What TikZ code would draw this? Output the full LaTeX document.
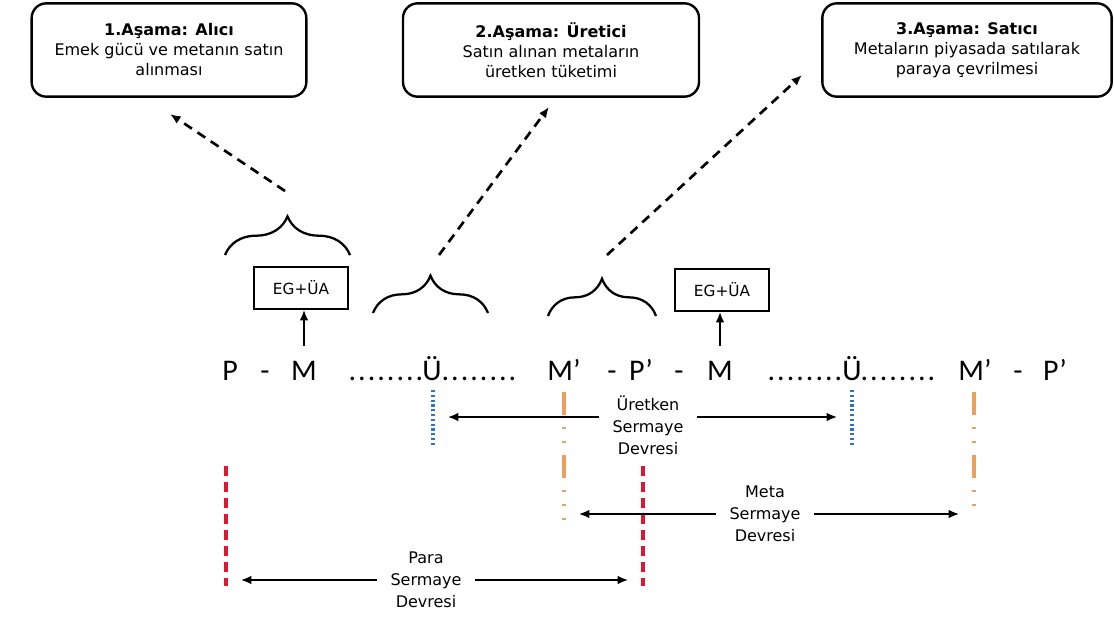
\documentclass[tikz,border=0pt]{standalone}
\usepackage{fontspec}
\setmainfont{DejaVu Sans}
\newfontfamily\rowfont{Carlito}
\usepackage{tikz}
\usetikzlibrary{arrows,arrows.meta}
\usetikzlibrary{decorations,decorations.pathreplacing}
\definecolor{prodblue}{RGB}{46,117,182}
\definecolor{metaorange}{RGB}{236,160,96}
\definecolor{parared}{RGB}{222,22,48}
\tikzstyle{stage}=[draw, rounded corners=11pt, line width=1.8pt, align=center, minimum height=70pt, font=\fontsize{12}{15}\selectfont]
\tikzstyle{token}=[inner sep=0pt, inner ysep=11pt, font=\rowfont\fontsize{22.5}{22.5}\selectfont]
\tikzstyle{egbox}=[draw, line width=1.6pt, minimum width=71pt, minimum height=31pt, font=\fontsize{11.5}{11.5}\selectfont]
\tikzstyle{cyclabel}=[align=center, inner xsep=10pt, font=\fontsize{12}{16.5}\selectfont]
\tikzstyle{tip}=[-{Latex[length=8pt,width=6.5pt]}]
\tikzstyle{cyc}=[tip, line width=1.6pt, shorten >=11pt]
\tikzstyle{phase}=[tip, line width=2pt, dash pattern=on 7pt off 5pt]
\tikzstyle{bracket}=[decorate, decoration={brace, amplitude=29pt}, line width=1.7pt]
\tikzstyle{prodline}=[prodblue, line width=2.6pt, dash pattern=on 1.6pt off 2pt]
\tikzstyle{metaline}=[metaorange, line width=2.6pt, dash pattern=on 17pt off 9pt on 1.6pt off 9pt on 1.6pt off 9pt]
\tikzstyle{paraline}=[parared, line width=2.6pt, dash pattern=on 7.5pt off 4.5pt]
\newcommand{\dotrun}{\makebox[7.2pt]{.}\makebox[7.2pt]{.}\makebox[7.2pt]{.}\makebox[7.2pt]{.}%
 \makebox[7.2pt]{.}\makebox[7.2pt]{.}\makebox[7.2pt]{.}\makebox[7.2pt]{.}}

\begin{document}
\begin{tikzpicture}[x=0.75pt, y=-0.75pt]
 \useasboundingbox (0,0) rectangle (1114,619);
% stages
 \node[stage, minimum width=206pt] (box1) at (169,50) {\textbf{1.Aşama: Alıcı}\\Emek gücü ve metanın satın\\alınması};
 \node[stage, minimum width=222pt] (box2) at (551,50) {\textbf{2.Aşama: Üretici}\\Satın alınan metaların\\üretken tüketimi};
 \node[stage, minimum width=217pt] (box3) at (967,50) {\textbf{3.Aşama: Satıcı}\\Metaların piyasada satılarak\\paraya çevrilmesi};
%
 \coordinate (s1a) at (285,191); \coordinate (s1b) at (170,114);
 \coordinate (s2a) at (439,255); \coordinate (s2b) at (549,107);
 \coordinate (s3a) at (607,255); \coordinate (s3b) at (802,75);
 \draw[phase] (s1a) -- (s1b);
 \draw[phase] (s2a) -- (s2b);
 \draw[phase] (s3a) -- (s3b);
%
 \draw[bracket] (225,255) -- (350,255);
 \draw[bracket, decoration={amplitude=28pt}] (373,313) -- (488,313);
 \draw[bracket, decoration={amplitude=28pt}] (548,316) -- (656,316);
% the circuit
 \node[token, anchor=base] (p1) at (230,380) {P};
 \node[token, anchor=base] (h1) at (265,380) {-};
 \node[token, anchor=base] (m1) at (304,380) {M};
 \node[token, anchor=base] (dl1) at (386,380) {\dotrun};
 \node[token, anchor=base] (u1) at (432,380) {Ü};
 \node[token, anchor=base] (dr1) at (479,380) {\dotrun};
 \node[token, anchor=base] (mp1) at (564,380) {M’};
 \node[token, anchor=base] (h2) at (612,380) {-};
 \node[token, anchor=base] (pp1) at (641,380) {P’};
 \node[token, anchor=base] (h3) at (679,380) {-};
 \node[token, anchor=base] (m2) at (720,380) {M};
 \node[token, anchor=base] (dl2) at (805,380) {\dotrun};
 \node[token, anchor=base] (u2) at (852,380) {Ü};
 \node[token, anchor=base] (dr2) at (898,380) {\dotrun};
 \node[token, anchor=base] (mp2) at (975,380) {M’};
 \node[token, anchor=base] (h4) at (1018,380) {-};
 \node[token, anchor=base] (pp2) at (1055,380) {P’};
%
 \node[egbox] (eg1) at (301,288) {EG+ÜA};
 \node[egbox] (eg2) at (722,290) {EG+ÜA};
 \draw[tip, line width=1.6pt] (m1.north) -- (m1.north |- eg1.south);
 \draw[tip, line width=1.6pt] (m2.north) -- (m2.north |- eg2.south);
% marker lines
 \coordinate (b1) at (433,390); \coordinate (b2) at (852,390);
 \coordinate (o1) at (564,392); \coordinate (o2) at (974,392);
 \coordinate (r1) at (226,466); \coordinate (r2) at (643,466);
 \draw[prodline] (b1) -- ++(0,56);
 \draw[prodline] (b2) -- ++(0,56);
 \draw[metaline] (o1) -- ++(0,128);
 \draw[metaline] (o2) -- ++(0,116);
 \draw[paraline] (r1) -- ++(0,120);
 \draw[paraline] (r2) -- ++(0,120);
% circuits
 \node[cyclabel] (ur) at (648,425) {Üretken\\Sermaye\\Devresi};
 \node[cyclabel] (mt) at (765,514) {Meta\\Sermaye\\Devresi};
 \node[cyclabel] (pr) at (426,580) {Para\\Sermaye\\Devresi};
 \path ([yshift=6pt]ur.west) coordinate (urw) ([yshift=6pt]ur.east) coordinate (ure);
 \draw[cyc] (urw) -- (urw -| b1);
 \draw[cyc] (ure) -- (ure -| b2);
 \draw[cyc] (mt.west) -- (mt.west -| o1);
 \draw[cyc] (mt.east) -- (mt.east -| o2);
 \draw[cyc] (pr.west) -- (pr.west -| r1);
 \draw[cyc] (pr.east) -- (pr.east -| r2);
\end{tikzpicture}
\end{document}
